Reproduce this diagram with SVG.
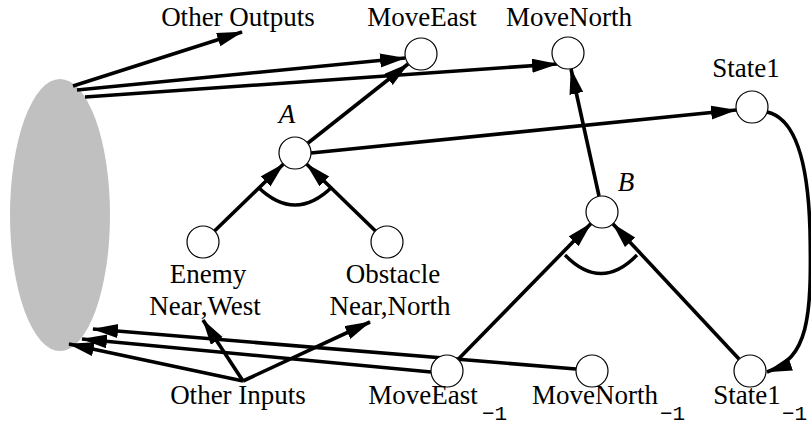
<svg xmlns="http://www.w3.org/2000/svg" width="811" height="425" viewBox="0 0 811 425">
<style>
.t{font-family:"Liberation Serif","Times New Roman",serif;font-size:27px;fill:#000;text-anchor:middle}
.i{font-style:italic}
.s{font-family:"Liberation Mono","Courier New",monospace;font-size:21px;fill:#000}
.n{fill:#fff;stroke:#000;stroke-width:1.2}
.e{fill:none;stroke:#000;stroke-width:3.6;marker-end:url(#ah)}
.a{fill:none;stroke:#000;stroke-width:3.4}
</style>
<defs>
<marker id="ah" markerUnits="userSpaceOnUse" markerWidth="28" markerHeight="16" refX="25" refY="7" orient="auto">
<path d="M0,0 L26,7 L0,14 Z" fill="#000"/>
</marker>
</defs>
<ellipse id="blob" cx="60" cy="215" rx="50" ry="136" fill="#c0c0c0"/>
<g id="connectors">
<line class="e" x1="73" y1="86" x2="242" y2="32"/>
<line class="e" x1="77" y1="90" x2="405" y2="58"/>
<line class="e" x1="85" y1="97" x2="557" y2="64"/>
<line class="e" x1="308" y1="143" x2="408" y2="64"/>
<line class="e" x1="311" y1="153" x2="736" y2="110"/>
<line class="e" x1="599" y1="196" x2="571" y2="69"/>
<line class="e" x1="214.5" y1="231" x2="283.5" y2="164"/>
<line class="e" x1="375.5" y1="231" x2="306.5" y2="164"/>
<line class="e" x1="458" y1="359.5" x2="591" y2="223.5"/>
<line class="e" x1="739" y1="359" x2="613" y2="224"/>
<line class="e" x1="243" y1="381" x2="203" y2="320"/>
<line class="e" x1="243" y1="381" x2="370" y2="322"/>
<line class="e" x1="243" y1="381" x2="69" y2="344"/>
<line class="e" x1="431" y1="372" x2="82" y2="339"/>
<line class="e" x1="576" y1="369" x2="93" y2="329"/>
<path class="e" d="M767 112 C795 118 808 160 810 230 C812 320 808 358 767 372"/>
<path class="a" d="M258 187 Q295 223 332 187"/>
<path class="a" d="M565 255 Q601 292 637 255"/>
</g>
<g id="moveEast"><circle class="n" cx="421" cy="54" r="16"/><text class="t" x="422" y="26">MoveEast</text></g>
<g id="moveNorth"><circle class="n" cx="568" cy="53" r="16"/><text class="t" x="569" y="26">MoveNorth</text></g>
<g id="state1"><circle class="n" cx="752" cy="107" r="16"/><text class="t" x="746" y="77">State1</text></g>
<g id="otherOutputs"><text class="t" x="238" y="26">Other Outputs</text></g>
<g id="nodeA"><circle class="n" cx="295" cy="153" r="16"/><text class="t i" x="287" y="123">A</text></g>
<g id="nodeB"><circle class="n" cx="602" cy="212" r="16"/><text class="t i" x="626" y="191">B</text></g>
<g id="enemy"><circle class="n" cx="203" cy="242" r="16"/><text class="t" x="208" y="283">Enemy</text><text class="t" x="205" y="315">Near,West</text></g>
<g id="obstacle"><circle class="n" cx="387" cy="242" r="16"/><text class="t" x="393" y="283">Obstacle</text><text class="t" x="390" y="315">Near,North</text></g>
<g id="otherInputs"><text class="t" x="238" y="404">Other Inputs</text></g>
<g id="moveEast1"><circle class="n" cx="447" cy="371" r="16"/><text class="t" x="423" y="404">MoveEast</text><text class="s" x="482" y="420">−1</text></g>
<g id="moveNorth1"><circle class="n" cx="592" cy="371" r="16"/><text class="t" x="595" y="404">MoveNorth</text><text class="s" x="660" y="420">−1</text></g>
<g id="state1m1"><circle class="n" cx="750" cy="371" r="16"/><text class="t" x="747" y="404">State1</text><text class="s" x="782" y="420">−1</text></g>
</svg>
